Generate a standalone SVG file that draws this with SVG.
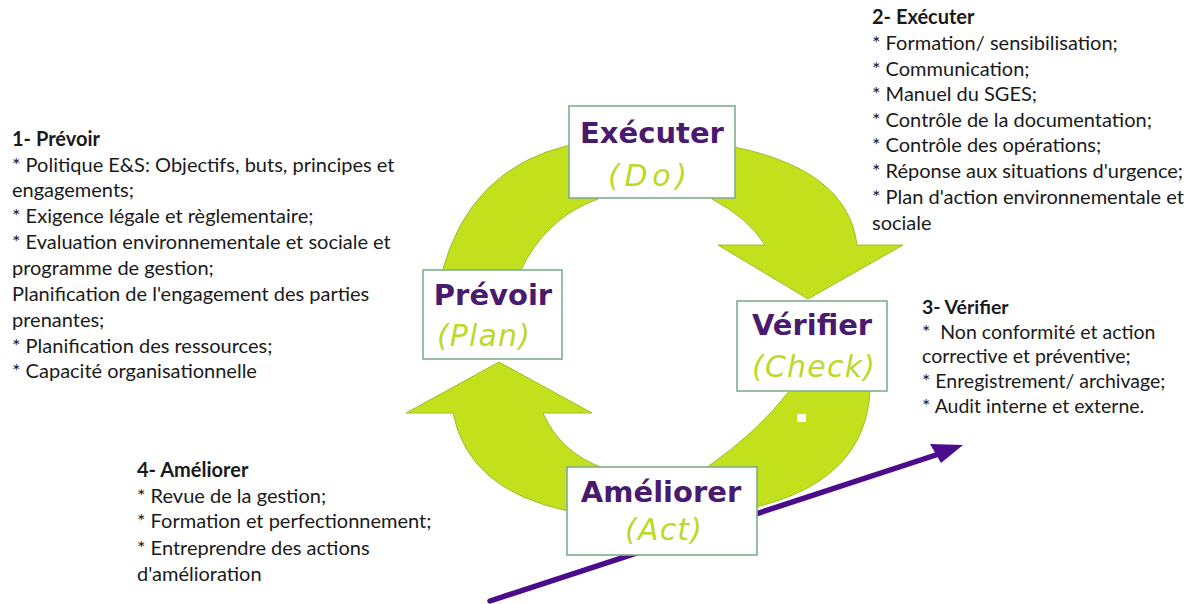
<svg xmlns="http://www.w3.org/2000/svg" width="1200" height="604" viewBox="0 0 1200 604">
<style>
.arc{fill:#c2e11c;stroke:#9cbd2a;stroke-width:1}
.box{fill:#ffffff;stroke:#7fae8e;stroke-width:1.6}
.t1{font-family:"DejaVu Sans","Liberation Sans",sans-serif;font-weight:bold;font-size:29px;fill:#4a1a6e;text-anchor:middle}
.t2{font-family:"DejaVu Sans","Liberation Sans",sans-serif;font-style:italic;font-size:30px;fill:#bcd92a}
.tx{font-family:Lato,"Liberation Sans",sans-serif;font-size:20px;fill:#1a1a1a}
.sm{font-size:19.5px}
.hd{font-weight:bold}
</style>
<rect width="1200" height="604" fill="#ffffff"/>
<g id="connectors">
  <path class="arc" d="M 442 272 Q 470 168 570 145 L 598 199 Q 545 218 520 272 Z"/>
  <path class="arc" d="M 734 147 Q 848 170 857 245 L 903 245 L 808 299 L 718 245 L 765 245 Q 748 218 712 199 Z"/>
  <path class="arc" d="M 790 390 L 870 390 Q 866 480 756 507 L 706 468 Q 758 432 790 390 Z"/>
  <rect x="797" y="414" width="9" height="8" fill="#ffffff"/>
  <path class="arc" d="M 499 362 L 592 413 L 543 413 Q 560 452 603 468 L 568 511 Q 468 490 453 413 L 406 413 Z"/>
  <path d="M 490 601 L 945 452" stroke="#4b0c8c" stroke-width="5.5" fill="none" stroke-linecap="round"/>
  <polygon points="963,445 930,444 941,463" fill="#4b0c8c"/>
</g>
<g id="node-executer">
  <rect class="box" x="569" y="106" width="166" height="92"/>
  <text class="t1" x="652" y="143">Exécuter</text>
  <text class="t2" x="608" y="186" textLength="79">(Do)</text>
</g>
<g id="node-prevoir">
  <rect class="box" x="423" y="270" width="139" height="89"/>
  <text class="t1" x="493" y="305">Prévoir</text>
  <text class="t2" x="437" y="346" textLength="93">(Plan)</text>
</g>
<g id="node-verifier">
  <rect class="box" x="737" y="301" width="150" height="90"/>
  <text class="t1" x="812" y="335">Vérifier</text>
  <text class="t2" x="752" y="377" textLength="123">(Check)</text>
</g>
<g id="node-ameliorer">
  <rect class="box" x="567" y="467" width="190" height="88"/>
  <text class="t1" x="661" y="502">Améliorer</text>
  <text class="t2" x="625" y="540" textLength="77">(Act)</text>
</g>
<g id="text-prevoir">
  <text x="12" y="146" class="tx hd">1- Prévoir</text>
  <text x="12" y="172" class="tx">* Politique E&amp;S: Objectifs, buts, principes et</text>
  <text x="12" y="197" class="tx">engagements;</text>
  <text x="12" y="223" class="tx">* Exigence légale et règlementaire;</text>
  <text x="12" y="249" class="tx">* Evaluation environnementale et sociale et</text>
  <text x="12" y="275" class="tx">programme de gestion;</text>
  <text x="12" y="301" class="tx">Planification de l'engagement des parties</text>
  <text x="12" y="327" class="tx">prenantes;</text>
  <text x="12" y="353" class="tx">* Planification des ressources;</text>
  <text x="12" y="378" class="tx">* Capacité organisationnelle</text>
</g>
<g id="text-executer">
  <text x="872" y="24" class="tx hd">2- Exécuter</text>
  <text x="872" y="50" class="tx">* Formation/ sensibilisation;</text>
  <text x="872" y="76" class="tx">* Communication;</text>
  <text x="872" y="101" class="tx">* Manuel du SGES;</text>
  <text x="872" y="127" class="tx">* Contrôle de la documentation;</text>
  <text x="872" y="152" class="tx">* Contrôle des opérations;</text>
  <text x="872" y="178" class="tx">* Réponse aux situations d'urgence;</text>
  <text x="872" y="204" class="tx">* Plan d'action environnementale et</text>
  <text x="872" y="230" class="tx">sociale</text>
</g>
<g id="text-verifier">
  <text x="922" y="314" class="tx sm hd">3- Vérifier</text>
  <text x="922" y="339" class="tx sm" xml:space="preserve">*  Non conformité et action</text>
  <text x="922" y="363" class="tx sm">corrective et préventive;</text>
  <text x="922" y="388" class="tx sm">* Enregistrement/ archivage;</text>
  <text x="922" y="413" class="tx sm">* Audit interne et externe.</text>
</g>
<g id="text-ameliorer">
  <text x="137" y="477" class="tx hd">4- Améliorer</text>
  <text x="137" y="503" class="tx">* Revue de la gestion;</text>
  <text x="137" y="528" class="tx">* Formation et perfectionnement;</text>
  <text x="137" y="555" class="tx">* Entreprendre des actions</text>
  <text x="137" y="581" class="tx">d'amélioration</text>
</g>
</svg>
